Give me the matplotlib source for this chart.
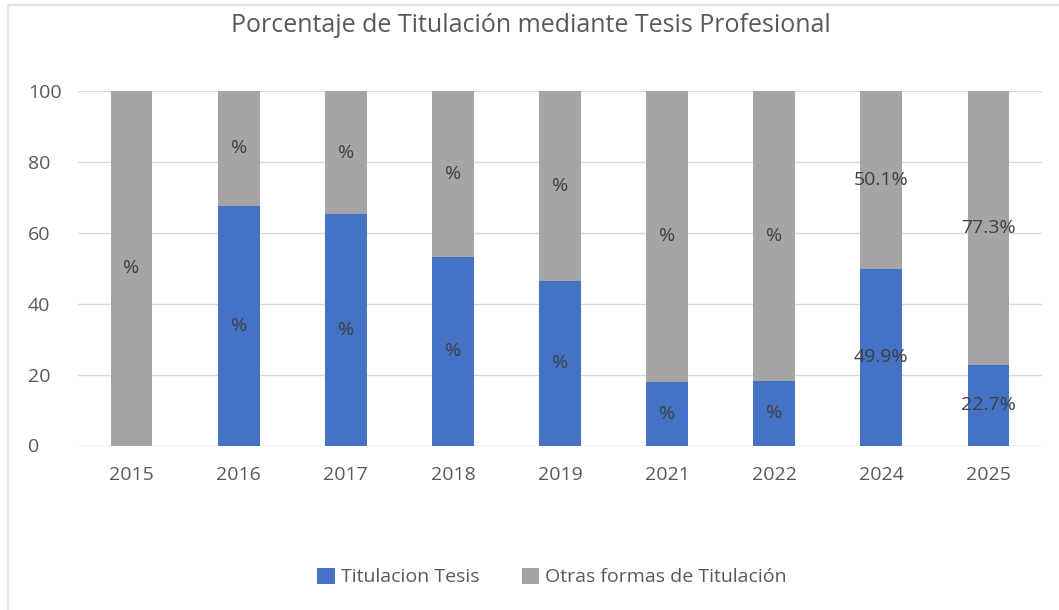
import matplotlib.pyplot as plt
from matplotlib.lines import Line2D

years = ["2015", "2016", "2017", "2018", "2019", "2021", "2022", "2024", "2025"]
tesis = [0.0, 67.6, 65.3, 53.3, 46.5, 18.0, 18.3, 49.9, 22.7]
otras = [100.0, 32.4, 34.7, 46.7, 53.5, 82.0, 81.7, 50.1, 77.3]
labels_tesis = ["", "%", "%", "%", "%", "%", "%", "49.9%", "22.7%"]
labels_otras = ["%", "%", "%", "%", "%", "%", "%", "50.1%", "77.3%"]

plt.rcParams["font.family"] = ["Open Sans", "DejaVu Sans"]

blue = "#4472C4"
gray = "#A5A5A5"
text_col = "#595959"
label_col = "#404040"

fig = plt.figure(figsize=(10.59, 6.10), dpi=100)
ax = fig.add_axes([78 / 1059, 1 - 445.5 / 610, (1042 - 78) / 1059, (445.5 - 91) / 610])

x = range(len(years))
b1 = ax.bar(x, tesis, width=0.39, color=blue, zorder=2, label="Titulacion Tesis")
b2 = ax.bar(x, otras, width=0.39, bottom=tesis, color=gray, zorder=2,
            label="Otras formas de Titulación")

for i in x:
    if labels_tesis[i]:
        ax.text(i, tesis[i] / 2, labels_tesis[i], ha="center", va="center",
                fontsize=14, color=label_col, zorder=3)
    ax.text(i, tesis[i] + otras[i] / 2, labels_otras[i], ha="center", va="center",
            fontsize=14, color=label_col, zorder=3)

ax.set_xlim(-0.5, len(years) - 0.5)
ax.set_ylim(0, 100)
ax.set_yticks([0, 20, 40, 60, 80, 100])
ax.set_xticks(list(x))
ax.set_xticklabels(years)
ax.tick_params(axis="both", length=0, labelsize=14, colors=text_col)
ax.tick_params(axis="y", pad=36)
ax.tick_params(axis="x", pad=15)
for lab in ax.get_yticklabels():
    lab.set_horizontalalignment("left")
ax.grid(axis="y", color="#D9D9D9", linewidth=1, zorder=0)
for s in ax.spines.values():
    s.set_visible(False)
ax.axhline(0, color="#D9D9D9", linewidth=1, zorder=1)

fig.text(531 / 1059, 1 - 25 / 610, "Porcentaje de Titulación mediante Tesis Profesional",
         ha="center", va="center", fontsize=18, color=text_col)

fig.legend(handles=[b1, b2], loc="center", bbox_to_anchor=(552 / 1059, 1 - 577 / 610),
           ncol=2, frameon=False, fontsize=14, labelcolor=text_col,
           handlelength=0.9, handleheight=0.9, handletextpad=0.3, columnspacing=2.2)

# light chart border (left and top edges visible)
fig.add_artist(Line2D([8 / 1059, 8 / 1059], [0, 1 - 5 / 610], transform=fig.transFigure,
                      color="#E3E3E3", linewidth=1.5))
fig.add_artist(Line2D([8 / 1059, 1], [1 - 5 / 610, 1 - 5 / 610], transform=fig.transFigure,
                      color="#E3E3E3", linewidth=1.5))

fig.savefig("out.png", dpi=100)
